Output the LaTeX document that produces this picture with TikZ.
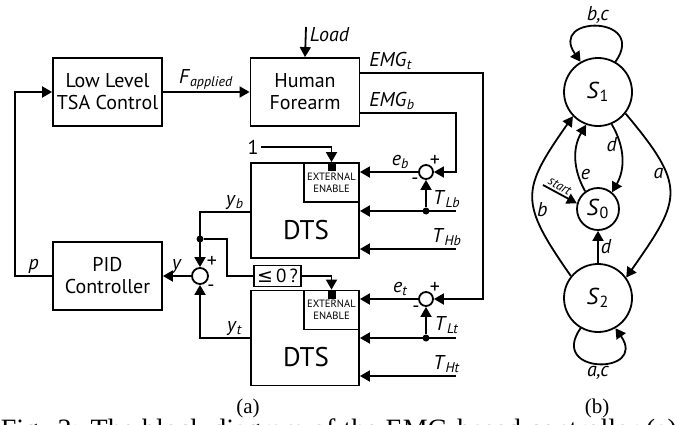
\documentclass[tikz,border=0pt]{standalone}
\usepackage{fontspec}
\setmainfont{PT Sans}
\newfontfamily\capfont{Liberation Serif}
\newfontfamily\symfont{DejaVu Sans}
\usetikzlibrary{calc, arrows.meta}

\newcommand{\sig}[2]{\textit{#1}\textsubscript{\textit{#2}}}
\newcommand{\stname}[1]{\textit{S}\textsubscript{#1}}

\begin{document}
\begin{tikzpicture}[
    x=0.5pt, y=0.5pt,
    line width=0.9pt,
    >={Triangle[length=5pt,width=5.5pt]},
    font=\fontsize{10}{11}\selectfont,
    block/.style={draw, align=center, inner sep=0pt, minimum width=54.5pt, minimum height=34pt},
    dtsbox/.style={draw, inner sep=0pt, minimum width=54pt, minimum height=47.5pt},
    ee/.style={draw, align=center, inner sep=0pt, minimum width=27.5pt, minimum height=19.5pt,
        font=\fontsize{5.3}{6.2}\selectfont},
    sum/.style={draw, circle, inner sep=0pt, minimum size=7pt},
    dot/.style={fill, circle, inner sep=0pt, minimum size=3.5pt},
    enable/.style={fill, inner sep=0pt, minimum width=4pt, minimum height=4pt},
    sig/.style={inner sep=1pt, font=\fontsize{10}{11}\selectfont},
    sign/.style={inner sep=0pt, font=\fontsize{10}{10}\selectfont},
    state/.style={draw, circle, inner sep=0pt, font=\fontsize{11.5}{12}\selectfont}
]
    \useasboundingbox (0,0) rectangle (678,424);

    % Blocks
    \node[block] (lowlevel) at (107.5,332) {Low Level\\TSA Control};
    \node[block] (forearm) at (305,332) {Human\\Forearm};
    \node[block] (pid) at (107.5,148) {PID\\Controller};

    % DTS (b)
    \node[dtsbox] (dtsb) at (305,213.5) {};
    \node[ee, anchor=north east] (eeb) at (dtsb.north east) {EXTERNAL\\ENABLE};
    \node[enable, anchor=north] (enb) at (eeb.north) {};
    \node[font=\fontsize{13.5}{13.5}\selectfont] (dtsbtxt) at (306,194) {DTS};

    % DTS (t)
    \node[dtsbox] (dtst) at (305,86) {};
    \node[ee, anchor=north east] (eet) at (dtst.north east) {EXTERNAL\\ENABLE};
    \node[enable, anchor=north] (ent) at (eet.north) {};
    \node[font=\fontsize{13.5}{13.5}\selectfont] (dtsttxt) at (306,67) {DTS};

    % Summing junctions
    \node[sum] (sumb) at (426,252) {};
    \node[sum] (sumt) at (426,125) {};
    \node[sum, minimum size=8pt] (sumy) at (200,148) {};
    \node[sign] (sumbp) at ($(sumb)+(9,11)$) {+};
    \node[sign] (sumbm) at ($(sumb)+(-11,-9)$) {-};
    \node[sign] (sumtp) at ($(sumt)+(9,11)$) {+};
    \node[sign] (sumtm) at ($(sumt)+(-10,-10)$) {-};
    \node[sign] (sumyp) at ($(sumy)+(12,14)$) {+};
    \node[sign] (sumym) at ($(sumy)+(11,-12)$) {-};

    % Forward path
    \draw[->] (lowlevel) -- node[sig, above] (flbl) {\sig{F}{applied}} (forearm);
    \coordinate (loadtop) at (306,397);
    \draw[->] (loadtop) -- (forearm.north);
    \node[sig, anchor=west] (loadlbl) at (307,389) {\textit{Load}};

    % EMG signals
    \draw[->] ([yshift=9.5pt]forearm.east) node[sig, above right, xshift=3pt] (emgtlbl) {\sig{EMG}{t}}
        -| ($(sumt.east)+(49,0)$) -- (sumt.east);
    \draw[->] ([yshift=-10.5pt]forearm.east) node[sig, above right, xshift=3pt] (emgblbl) {\sig{EMG}{b}}
        -| ($(sumb.east)+(22,0)$) -- (sumb.east);

    % Errors
    \draw[->] (sumb.west) -- node[sig, above, pos=0.3] (eblbl) {\sig{e}{b}} (sumb.west -| dtsb.east);
    \draw[->] (sumt.west) -- node[sig, above, pos=0.3] (etlbl) {\sig{e}{t}} (sumt.west -| dtst.east);

    % Thresholds
    \coordinate (tlb) at (456,213);
    \coordinate (thb) at (456,175);
    \coordinate (tlt) at (456,86);
    \coordinate (tht) at (456,48);
    \draw[->] (tlb) -- (tlb -| dtsb.east);
    \draw[->] (thb) -- (thb -| dtsb.east);
    \draw[->] (tlt) -- (tlt -| dtst.east);
    \draw[->] (tht) -- (tht -| dtst.east);
    \node[dot] (tlbdot) at (tlb -| sumb) {};
    \node[dot] (tltdot) at (tlt -| sumt) {};
    \draw[->] (tlbdot) -- (sumb.south);
    \draw[->] (tltdot) -- (sumt.south);
    \node[sig] (tlblbl) at (447,225) {\sig{T}{Lb}};
    \node[sig] (thblbl) at (447,187) {\sig{T}{Hb}};
    \node[sig] (tltlbl) at (447,99) {\sig{T}{Lt}};
    \node[sig] (thtlbl) at (447,60) {\sig{T}{Ht}};

    % Enables
    \node[sig] (one) at (253,277) {1};
    \draw[->] (one) -| (enb.north);
    \node[draw, inner sep=1.5pt, minimum height=10.5pt, font=\fontsize{9.5}{10}\selectfont] (le) at (277.5,148) {{\symfont ≤}\,0\,?};
    \node[dot] (ybdot) at (200,185) {};
    \draw (ybdot) -| ($(le.west)+(-26,0)$) -- (le.west);
    \draw[->] (le.east) -| (ent.north);

    % Outputs
    \draw[->] ([yshift=-0.75pt]dtsb.west) -| node[sig, above, pos=0.15] (yblbl) {\sig{y}{b}} (sumy.north);
    \draw[->] (dtst.west) -| node[sig, above, pos=0.15] (ytlbl) {\sig{y}{t}} (sumy.south);
    \draw[->] (sumy.west) -- node[sig, above] (ylbl) {\textit{y}} (pid.east);
    \draw[->] (pid.west) -- node[sig, above] (plbl) {\textit{p}} ++(-37,0) |- (lowlevel.west);

    % State machine
    \node[state, minimum size=34pt] (S1) at (598,332) {\stname{1}};
    \node[state, minimum size=21pt] (S0) at (598,215) {\stname{0}};
    \node[state, minimum size=34pt] (S2) at (598,126) {\stname{2}};

    \draw[->] (S1.60) to[out=55, in=125, looseness=4.2] node[sig, above] (bclbl) {\textit{b,c}} (S1.120);
    \draw[->] (S2.-120) to[out=-125, in=-55, looseness=4.2] node[sig, below] (aclbl) {\textit{a,c}} (S2.-60);
    \draw[->] (S2) -- node[sig, right] (d2lbl) {\textit{d}} (S0);
    \draw[->] (S1.-67) to[bend left=30] node[sig, left, pos=0.3] (d1lbl) {\textit{d}} (S0.50);
    \draw[->] (S0.126) to[bend left=30] node[sig, right, pos=0.25] (elbl) {\textit{e}} (S1.-110);
    \draw[->] (S1.-38) to[out=-50, in=55, looseness=1.5] node[sig, left, pos=0.35] (albl) {\textit{a}} (S2.36);
    \draw[->] (S2.141) to[out=125, in=-125, looseness=1.45] node[sig, right, pos=0.4] (blbl) {\textit{b}} (S1.-136);
    \coordinate (startpt) at (543,239);
    \draw[->] (startpt) -- node[sig, above, sloped, pos=0.4, font=\fontsize{6.5}{6.5}\selectfont] (startlbl) {\textit{start}} (S0.165);

    % Captions
    \node[font=\capfont\fontsize{10.5}{11}\selectfont] (capa) at (248,16) {(a)};
    \node[font=\capfont\fontsize{10.5}{11}\selectfont] (capb) at (597,16) {(b)};
    \node[anchor=north west, inner sep=0pt, font=\capfont\fontsize{14}{15}\selectfont] (figcap) at (0,6)
        {\makebox[338pt][s]{Fig. 3: The block diagram of the EMG-based controller (a)}};

\end{tikzpicture}
\end{document}
